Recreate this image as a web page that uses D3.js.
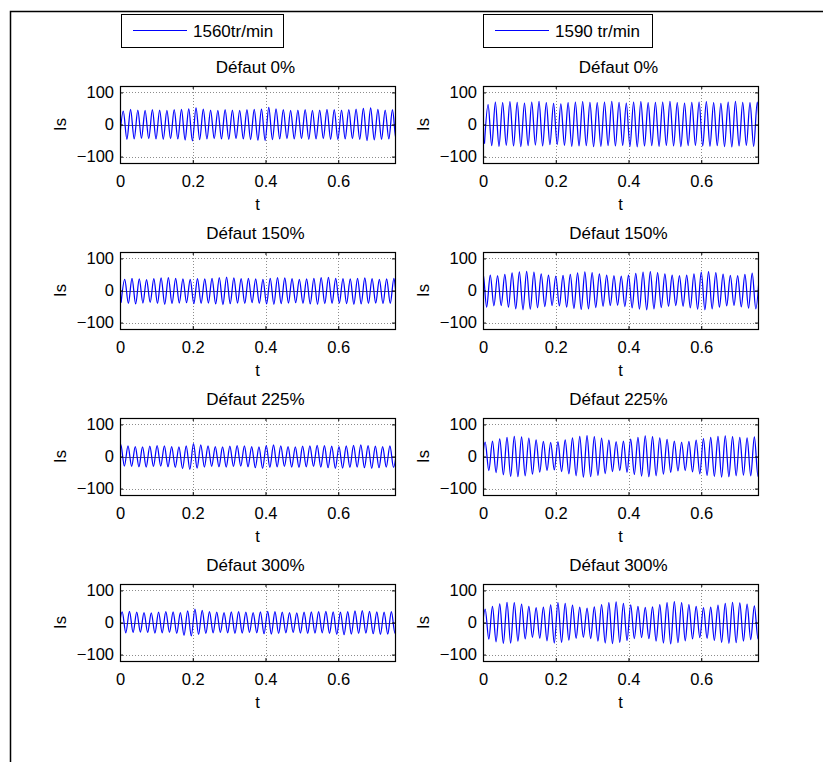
<!DOCTYPE html>
<html>
<head>
<meta charset="utf-8">
<script src="https://cdn.jsdelivr.net/npm/d3@7"></script>
<style>
  body { margin: 0; background: #fff; }
  svg { display: block; }
  text { font-family: "Liberation Sans", Arial, Helvetica, sans-serif; fill: #000; }
</style>
</head>
<body>
<svg id="fig" width="823" height="762"></svg>
<script>
// ---- data -------------------------------------------------------------
// Stator current Is (A) versus time t (s), two rotor speeds, four defect levels.
// Each series is given by its successive positive and negative peak values,
// one pair per 50 Hz period, starting from the first positive peak time.
const speeds = ["1560tr/min", "1590 tr/min"];
const defects = ["Défaut 0%", "Défaut 150%", "Défaut 225%", "Défaut 300%"];
const xTicks = [0, 0.2, 0.4, 0.6];
const yTicks = [-100, 0, 100];
const period = 0.02;

// time (s) of the first positive peak, per defect level
const firstPeak1560 = [0.009, 0.013, 0.002, 0.006];
const firstPeak1590 = [0.014, 0.000, 0.006, 0.006];

const pos1560_0 = [42,47,45,44,46,45,44,46,47,49,52,48,45,44,46,45,44,46,47,48,53,49,46,44,45,46,44,45,47,46,45,46,48,50,52,47,45,46,47];
const neg1560_0 = [-44,-46,-45,-43,-44,-45,-46,-44,-45,-48,-51,-47,-45,-44,-45,-46,-44,-45,-47,-49,-50,-47,-45,-44,-45,-44,-46,-45,-44,-46,-47,-45,-44,-46,-50,-48,-46,-45,-47];
const pos1590_0 = [62,70,68,71,69,67,70,72,68,66,64,68,70,71,69,68,70,72,69,67,70,71,68,69,70,72,68,67,69,70,71,68,66,70,72,69,68,70,71];
const neg1590_0 = [-60,-66,-68,-65,-67,-69,-66,-64,-67,-63,-62,-65,-68,-67,-66,-69,-68,-66,-67,-65,-68,-70,-67,-66,-68,-65,-67,-69,-66,-65,-67,-68,-66,-69,-70,-67,-65,-68,-67];

const pos1560_150 = [35,38,36,34,37,39,40,38,36,35,37,36,38,40,42,39,37,38,36,35,38,40,39,37,35,36,38,40,41,38,37,36,38,39,37,35,36,38,37];
const neg1560_150 = [-38,-40,-42,-39,-37,-40,-43,-41,-39,-38,-41,-40,-39,-42,-44,-41,-39,-40,-38,-40,-42,-43,-41,-39,-38,-40,-42,-43,-41,-40,-39,-41,-43,-42,-40,-39,-41,-40,-42];
const pos1590_150 = [55,48,46,50,55,58,60,57,52,48,45,47,50,55,58,56,52,48,46,45,48,53,57,59,56,52,48,46,48,52,57,59,56,51,47,46,50,54,56];
const neg1590_150 = [-50,-52,-48,-47,-52,-57,-60,-58,-54,-50,-47,-48,-52,-56,-59,-57,-53,-49,-47,-46,-50,-54,-58,-60,-57,-53,-49,-47,-49,-54,-58,-60,-57,-52,-48,-47,-51,-55,-57];

const pos1560_225 = [38,33,31,30,32,34,33,31,30,33,40,36,33,31,30,32,34,33,31,30,34,36,33,31,30,32,33,35,34,32,31,33,35,36,34,32,31,33,34];
const neg1560_225 = [-33,-30,-31,-32,-33,-31,-30,-32,-34,-38,-40,-36,-33,-31,-32,-33,-31,-30,-32,-35,-37,-34,-32,-31,-33,-34,-32,-31,-33,-35,-37,-36,-34,-33,-35,-37,-35,-33,-34];
const pos1590_225 = [45,48,55,60,63,61,57,52,47,44,46,52,58,63,65,62,57,51,46,48,54,60,64,62,58,53,48,45,47,51,56,60,63,64,62,60,58,61,62];
const neg1590_225 = [-40,-44,-50,-57,-62,-63,-60,-55,-49,-44,-42,-47,-54,-60,-64,-63,-59,-53,-47,-44,-49,-56,-61,-63,-60,-55,-49,-45,-44,-48,-54,-59,-62,-64,-63,-60,-58,-60,-62];

const pos1560_300 = [33,35,32,31,30,32,34,33,31,36,42,38,34,32,31,33,34,32,31,33,35,34,32,31,30,32,33,34,35,33,32,34,36,37,35,33,32,34,35];
const neg1560_300 = [-30,-32,-31,-30,-31,-33,-32,-31,-34,-40,-42,-37,-34,-32,-31,-32,-34,-33,-31,-32,-35,-36,-34,-32,-31,-33,-34,-33,-32,-34,-37,-38,-36,-34,-33,-35,-37,-36,-34];
const pos1590_300 = [42,50,58,63,62,57,50,46,48,55,62,60,54,48,45,49,56,62,64,60,55,50,47,49,56,62,65,62,56,50,46,48,54,60,63,61,57,52,50];
const neg1590_300 = [-45,-52,-60,-65,-64,-58,-51,-46,-49,-57,-64,-62,-55,-49,-46,-50,-58,-64,-66,-62,-56,-50,-47,-50,-58,-64,-67,-63,-57,-51,-47,-49,-56,-62,-65,-63,-58,-53,-51];

const peaks1560 = [[pos1560_0, neg1560_0], [pos1560_150, neg1560_150], [pos1560_225, neg1560_225], [pos1560_300, neg1560_300]];
const peaks1590 = [[pos1590_0, neg1590_0], [pos1590_150, neg1590_150], [pos1590_225, neg1590_225], [pos1590_300, neg1590_300]];

// ---- layout -----------------------------------------------------------
const colLeft = [120, 483];
const rowTop = [86, 252, 418, 584];
const plotW = 275, plotH = 77;

const svg = d3.select("#fig");
svg.append("rect").attr("width", 823).attr("height", 762).attr("fill", "#fff");

// figure frame (left and top edges)
svg.append("path")
  .attr("d", "M10.5,762V11.5H823")
  .attr("fill", "none").attr("stroke", "#000").attr("stroke-width", 1.5);

const x = d3.scaleLinear().domain([0, 0.756]).range([0, plotW]);
const y = d3.scaleLinear().domain([-120, 120]).range([plotH, 0]);

// turn peak lists into time/value points (negative peak half a period before each positive one)
function seriesPoints(t0, pos, neg) {
  const pts = [];
  pos.forEach((p, i) => {
    const tp = t0 + i * period;
    pts.push({ t: tp - period / 2, v: neg[i] });
    pts.push({ t: tp, v: p });
  });
  return pts;
}

const line = d3.line().x(d => x(d.t)).y(d => y(d.v)).curve(d3.curveMonotoneX);

// ---- legends ----------------------------------------------------------
const legendBoxes = [{ x: 121, w: 162 }, { x: 483, w: 169 }];
speeds.forEach((s, c) => {
  const g = svg.append("g").attr("transform", `translate(${legendBoxes[c].x},14)`);
  g.append("rect").attr("x", 0.5).attr("y", 0.5).attr("width", legendBoxes[c].w).attr("height", 33)
    .attr("fill", "#fff").attr("stroke", "#000").attr("stroke-width", 1);
  g.append("line").attr("x1", 12).attr("x2", 66).attr("y1", 16.5).attr("y2", 16.5)
    .attr("stroke", "#0000ff").attr("stroke-width", 1);
  g.append("text").attr("x", 72).attr("y", 23).attr("font-size", 17).text(s);
});

// ---- panels -----------------------------------------------------------
let clipId = 0;
[peaks1560, peaks1590].forEach((peaks, c) => {
  const t0s = c === 0 ? firstPeak1560 : firstPeak1590;
  defects.forEach((title, r) => {
    const g = svg.append("g").attr("transform", `translate(${colLeft[c]},${rowTop[r]})`);

    // grid
    g.selectAll(".gx").data(xTicks.filter(t => t > 0)).enter().append("line")
      .attr("x1", d => Math.round(x(d)) + 0.5).attr("x2", d => Math.round(x(d)) + 0.5)
      .attr("y1", 0).attr("y2", plotH)
      .attr("stroke", "#8c8c8c").attr("stroke-width", 1).attr("stroke-dasharray", "1,2");
    g.selectAll(".gy").data(yTicks.filter(v => v !== 0)).enter().append("line")
      .attr("x1", 0).attr("x2", plotW)
      .attr("y1", d => Math.round(y(d)) + 0.5).attr("y2", d => Math.round(y(d)) + 0.5)
      .attr("stroke", "#8c8c8c").attr("stroke-width", 1).attr("stroke-dasharray", "1,2");
    g.append("line").attr("x1", 0).attr("x2", plotW)
      .attr("y1", Math.round(y(0)) + 0.5).attr("y2", Math.round(y(0)) + 0.5)
      .attr("stroke", "#5a5a5a").attr("stroke-width", 1);

    // signal
    const id = "clip" + (clipId++);
    g.append("clipPath").attr("id", id).append("rect").attr("width", plotW).attr("height", plotH);
    g.append("path")
      .datum(seriesPoints(t0s[r], peaks[r][0], peaks[r][1]))
      .attr("clip-path", `url(#${id})`)
      .attr("fill", "none").attr("stroke", "#0000ff").attr("stroke-width", 1.25)
      .attr("d", line);

    // axes: ticks inside on all four sides
    g.append("g").attr("transform", `translate(0,${plotH})`)
      .call(d3.axisBottom(x).tickValues(xTicks).tickSize(-3).tickPadding(12).tickFormat(d3.format("")));
    g.append("g").call(d3.axisTop(x).tickValues(xTicks).tickSize(-3).tickFormat(""));
    g.append("g")
      .call(d3.axisLeft(y).tickValues(yTicks).tickSize(-3).tickPadding(6));
    g.append("g").attr("transform", `translate(${plotW},0)`)
      .call(d3.axisRight(y).tickValues(yTicks).tickSize(-3).tickFormat(""));
    g.selectAll(".domain").remove();
    g.selectAll(".tick line").attr("stroke", "#000");
    g.selectAll(".tick text").attr("font-size", 16.5).attr("font-family", null).attr("fill", "#000");

    // box
    g.append("rect").attr("x", 0.5).attr("y", 0.5).attr("width", plotW).attr("height", plotH)
      .attr("fill", "none").attr("stroke", "#000").attr("stroke-width", 1.2);

    // labels
    g.append("text").attr("x", plotW / 2 - 2).attr("y", -13).attr("text-anchor", "middle")
      .attr("font-size", 17).text(title);
    g.append("text").attr("x", plotW / 2).attr("y", plotH + 47).attr("text-anchor", "middle")
      .attr("font-size", 16.5).text("t");
    g.append("text").attr("transform", `translate(-54,${plotH / 2}) rotate(-90)`)
      .attr("text-anchor", "middle").attr("font-size", 16.5).text("Is");
  });
});
</script>
</body>
</html>
